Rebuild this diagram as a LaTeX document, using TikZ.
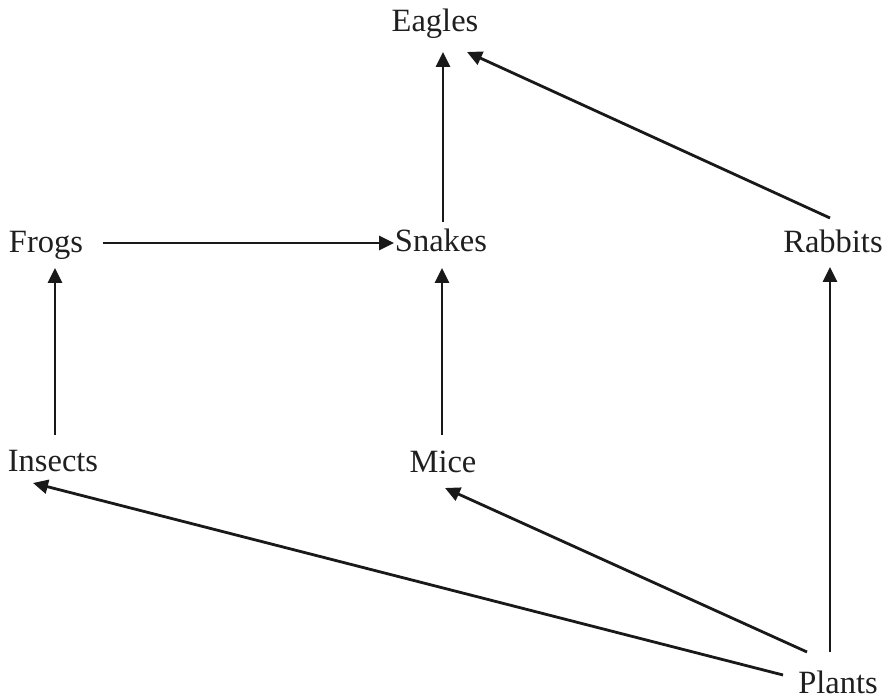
\documentclass[tikz,border=0pt]{standalone}
\usepackage{fontspec}
\setmainfont{Liberation Serif}
\usetikzlibrary{arrows.meta}
\begin{document}
\begin{tikzpicture}[x=1pt,y=1pt,
  lbl/.style={anchor=base,inner sep=0pt,text=black!88,font=\fontsize{32.5}{32.5}\selectfont},
  arr/.style={draw=black!90,line width=2.8pt,-{Triangle[length=15pt,width=14pt]}}]
\useasboundingbox (0,0) rectangle (883,699);
\node[lbl] (eagles) at (435,667) {Eagles};
\node[lbl] (frogs) at (46,446) {Frogs};
\node[lbl] (snakes) at (441,447) {Snakes};
\node[lbl] (rabbits) at (833,446) {Rabbits};
\node[lbl] (insects) at (53,227) {Insects};
\node[lbl] (mice) at (443,226) {Mice};
\node[lbl] (plants) at (838,6) {Plants};
\draw[arr] ([shift={(2pt,30pt)}]snakes.base) -- ([shift={(8pt,-20pt)}]eagles.base);
\draw[arr] ([shift={(-3pt,35pt)}]rabbits.base) -- ([shift={(32pt,-20pt)}]eagles.base);
\draw[arr] ([shift={(57pt,10pt)}]frogs.base) -- ([shift={(-47pt,9pt)}]snakes.base);
\draw[arr] ([shift={(2pt,37pt)}]insects.base) -- ([shift={(9pt,-15pt)}]frogs.base);
\draw[arr] ([shift={(-1pt,38pt)}]mice.base) -- ([shift={(1pt,-16pt)}]snakes.base);
\draw[arr] ([shift={(-8pt,41pt)}]plants.base) -- ([shift={(-3pt,-14pt)}]rabbits.base);
\draw[arr] ([shift={(-31pt,41pt)}]plants.base) -- ([shift={(2pt,-15pt)}]mice.base);
\draw[arr] ([shift={(-55pt,18pt)}]plants.base) -- ([shift={(-20pt,-11pt)}]insects.base);
\end{tikzpicture}
\end{document}
